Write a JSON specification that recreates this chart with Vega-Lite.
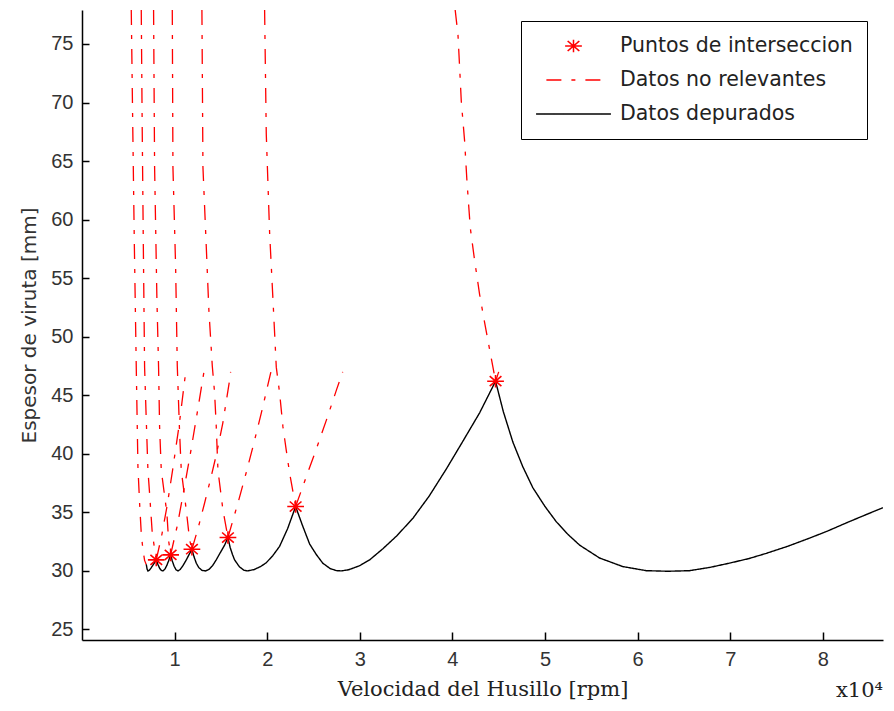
{
  "$schema": "https://vega.github.io/schema/vega-lite/v6.json",
  "width": 801,
  "height": 630,
  "autosize": {"type": "none"},
  "padding": {"left": 82, "top": 10, "right": 11, "bottom": 71},
  "background": "white",
  "title": {"text": "x10⁴", "orient": "bottom", "anchor": "end", "frame": "group", "font": "DejaVu Serif", "fontSize": 21, "fontWeight": "normal", "color": "#222", "offset": -19},
  "config": {
    "view": {"stroke": null},
    "axis": {"grid": false, "domainColor": "black", "domainWidth": 1.5, "tickColor": "black", "tickWidth": 1.5, "labelFont": "Liberation Sans", "labelFontSize": 20, "labelColor": "#333", "titleColor": "#333", "titleFontWeight": "normal"}
  },
  "datasets": {
    "depurados": [
      {"v": 0.694, "e": 30.55, "serie": "Datos depurados"},
      {"v": 0.703, "e": 30.15, "serie": "Datos depurados"},
      {"v": 0.712, "e": 30.0, "serie": "Datos depurados"},
      {"v": 0.73, "e": 30.08, "serie": "Datos depurados"},
      {"v": 0.75, "e": 30.3, "serie": "Datos depurados"},
      {"v": 0.775, "e": 30.6, "serie": "Datos depurados"},
      {"v": 0.802, "e": 30.94, "serie": "Datos depurados"},
      {"v": 0.82, "e": 30.55, "serie": "Datos depurados"},
      {"v": 0.84, "e": 30.2, "serie": "Datos depurados"},
      {"v": 0.857, "e": 30.04, "serie": "Datos depurados"},
      {"v": 0.874, "e": 30.0, "serie": "Datos depurados"},
      {"v": 0.895, "e": 30.15, "serie": "Datos depurados"},
      {"v": 0.915, "e": 30.45, "serie": "Datos depurados"},
      {"v": 0.935, "e": 30.85, "serie": "Datos depurados"},
      {"v": 0.957, "e": 31.37, "serie": "Datos depurados"},
      {"v": 0.975, "e": 30.85, "serie": "Datos depurados"},
      {"v": 0.995, "e": 30.4, "serie": "Datos depurados"},
      {"v": 1.015, "e": 30.1, "serie": "Datos depurados"},
      {"v": 1.036, "e": 30.0, "serie": "Datos depurados"},
      {"v": 1.06, "e": 30.12, "serie": "Datos depurados"},
      {"v": 1.09, "e": 30.45, "serie": "Datos depurados"},
      {"v": 1.12, "e": 30.85, "serie": "Datos depurados"},
      {"v": 1.15, "e": 31.3, "serie": "Datos depurados"},
      {"v": 1.187, "e": 31.85, "serie": "Datos depurados"},
      {"v": 1.21, "e": 31.2, "serie": "Datos depurados"},
      {"v": 1.235, "e": 30.65, "serie": "Datos depurados"},
      {"v": 1.26, "e": 30.3, "serie": "Datos depurados"},
      {"v": 1.295, "e": 30.05, "serie": "Datos depurados"},
      {"v": 1.335, "e": 30.0, "serie": "Datos depurados"},
      {"v": 1.37, "e": 30.12, "serie": "Datos depurados"},
      {"v": 1.41, "e": 30.45, "serie": "Datos depurados"},
      {"v": 1.45, "e": 30.95, "serie": "Datos depurados"},
      {"v": 1.5, "e": 31.65, "serie": "Datos depurados"},
      {"v": 1.54, "e": 32.2, "serie": "Datos depurados"},
      {"v": 1.576, "e": 32.85, "serie": "Datos depurados"},
      {"v": 1.6, "e": 32.0, "serie": "Datos depurados"},
      {"v": 1.625, "e": 31.4, "serie": "Datos depurados"},
      {"v": 1.648, "e": 30.94, "serie": "Datos depurados"},
      {"v": 1.7, "e": 30.35, "serie": "Datos depurados"},
      {"v": 1.75, "e": 30.05, "serie": "Datos depurados"},
      {"v": 1.79, "e": 30.0, "serie": "Datos depurados"},
      {"v": 1.86, "e": 30.12, "serie": "Datos depurados"},
      {"v": 1.93, "e": 30.38, "serie": "Datos depurados"},
      {"v": 1.99, "e": 30.7, "serie": "Datos depurados"},
      {"v": 2.06, "e": 31.3, "serie": "Datos depurados"},
      {"v": 2.134, "e": 32.1, "serie": "Datos depurados"},
      {"v": 2.22, "e": 33.6, "serie": "Datos depurados"},
      {"v": 2.307, "e": 35.5, "serie": "Datos depurados"},
      {"v": 2.38, "e": 33.9, "serie": "Datos depurados"},
      {"v": 2.458, "e": 32.3, "serie": "Datos depurados"},
      {"v": 2.53, "e": 31.4, "serie": "Datos depurados"},
      {"v": 2.6, "e": 30.66, "serie": "Datos depurados"},
      {"v": 2.68, "e": 30.2, "serie": "Datos depurados"},
      {"v": 2.75, "e": 30.02, "serie": "Datos depurados"},
      {"v": 2.8, "e": 30.0, "serie": "Datos depurados"},
      {"v": 2.88, "e": 30.1, "serie": "Datos depurados"},
      {"v": 3.0, "e": 30.45, "serie": "Datos depurados"},
      {"v": 3.106, "e": 30.94, "serie": "Datos depurados"},
      {"v": 3.25, "e": 31.9, "serie": "Datos depurados"},
      {"v": 3.4, "e": 33.0, "serie": "Datos depurados"},
      {"v": 3.574, "e": 34.5, "serie": "Datos depurados"},
      {"v": 3.75, "e": 36.4, "serie": "Datos depurados"},
      {"v": 3.934, "e": 38.7, "serie": "Datos depurados"},
      {"v": 4.1, "e": 40.9, "serie": "Datos depurados"},
      {"v": 4.294, "e": 43.5, "serie": "Datos depurados"},
      {"v": 4.466, "e": 46.2, "serie": "Datos depurados"},
      {"v": 4.55, "e": 43.6, "serie": "Datos depurados"},
      {"v": 4.653, "e": 41.0, "serie": "Datos depurados"},
      {"v": 4.76, "e": 38.9, "serie": "Datos depurados"},
      {"v": 4.869, "e": 37.1, "serie": "Datos depurados"},
      {"v": 5.0, "e": 35.5, "serie": "Datos depurados"},
      {"v": 5.122, "e": 34.2, "serie": "Datos depurados"},
      {"v": 5.25, "e": 33.1, "serie": "Datos depurados"},
      {"v": 5.374, "e": 32.2, "serie": "Datos depurados"},
      {"v": 5.59, "e": 31.1, "serie": "Datos depurados"},
      {"v": 5.84, "e": 30.37, "serie": "Datos depurados"},
      {"v": 6.094, "e": 30.02, "serie": "Datos depurados"},
      {"v": 6.33, "e": 29.97, "serie": "Datos depurados"},
      {"v": 6.56, "e": 30.02, "serie": "Datos depurados"},
      {"v": 6.78, "e": 30.3, "serie": "Datos depurados"},
      {"v": 6.99, "e": 30.66, "serie": "Datos depurados"},
      {"v": 7.2, "e": 31.05, "serie": "Datos depurados"},
      {"v": 7.39, "e": 31.5, "serie": "Datos depurados"},
      {"v": 7.62, "e": 32.1, "serie": "Datos depurados"},
      {"v": 7.857, "e": 32.8, "serie": "Datos depurados"},
      {"v": 8.05, "e": 33.4, "serie": "Datos depurados"},
      {"v": 8.254, "e": 34.1, "serie": "Datos depurados"},
      {"v": 8.45, "e": 34.75, "serie": "Datos depurados"},
      {"v": 8.65, "e": 35.4, "serie": "Datos depurados"}
    ],
    "norelevantes": [
      {"rama": "A1", "v": 0.532, "e": 77.9, "serie": "Datos no relevantes"},
      {"rama": "A1", "v": 0.548, "e": 68, "serie": "Datos no relevantes"},
      {"rama": "A1", "v": 0.565, "e": 58, "serie": "Datos no relevantes"},
      {"rama": "A1", "v": 0.586, "e": 47.4, "serie": "Datos no relevantes"},
      {"rama": "A1", "v": 0.604, "e": 38.9, "serie": "Datos no relevantes"},
      {"rama": "A1", "v": 0.622, "e": 35.8, "serie": "Datos no relevantes"},
      {"rama": "A1", "v": 0.64, "e": 33.2, "serie": "Datos no relevantes"},
      {"rama": "A1", "v": 0.658, "e": 31.8, "serie": "Datos no relevantes"},
      {"rama": "A1", "v": 0.676, "e": 30.9, "serie": "Datos no relevantes"},
      {"rama": "A1", "v": 0.694, "e": 30.55, "serie": "Datos no relevantes"},
      {"rama": "B1", "v": 0.64, "e": 77.9, "serie": "Datos no relevantes"},
      {"rama": "B1", "v": 0.65, "e": 68, "serie": "Datos no relevantes"},
      {"rama": "B1", "v": 0.662, "e": 58, "serie": "Datos no relevantes"},
      {"rama": "B1", "v": 0.676, "e": 47.4, "serie": "Datos no relevantes"},
      {"rama": "B1", "v": 0.694, "e": 42.9, "serie": "Datos no relevantes"},
      {"rama": "B1", "v": 0.712, "e": 38.6, "serie": "Datos no relevantes"},
      {"rama": "B1", "v": 0.73, "e": 36.6, "serie": "Datos no relevantes"},
      {"rama": "B1", "v": 0.759, "e": 33.2, "serie": "Datos no relevantes"},
      {"rama": "B1", "v": 0.802, "e": 30.94, "serie": "Datos no relevantes"},
      {"rama": "C1", "v": 0.773, "e": 77.9, "serie": "Datos no relevantes"},
      {"rama": "C1", "v": 0.784, "e": 64.5, "serie": "Datos no relevantes"},
      {"rama": "C1", "v": 0.809, "e": 53.2, "serie": "Datos no relevantes"},
      {"rama": "C1", "v": 0.827, "e": 47.4, "serie": "Datos no relevantes"},
      {"rama": "C1", "v": 0.838, "e": 42.3, "serie": "Datos no relevantes"},
      {"rama": "C1", "v": 0.856, "e": 38.6, "serie": "Datos no relevantes"},
      {"rama": "C1", "v": 0.917, "e": 34.9, "serie": "Datos no relevantes"},
      {"rama": "C1", "v": 0.935, "e": 32.6, "serie": "Datos no relevantes"},
      {"rama": "C1", "v": 0.957, "e": 31.37, "serie": "Datos no relevantes"},
      {"rama": "D1", "v": 0.975, "e": 77.9, "serie": "Datos no relevantes"},
      {"rama": "D1", "v": 0.982, "e": 64.5, "serie": "Datos no relevantes"},
      {"rama": "D1", "v": 1.011, "e": 56, "serie": "Datos no relevantes"},
      {"rama": "D1", "v": 1.029, "e": 47.5, "serie": "Datos no relevantes"},
      {"rama": "D1", "v": 1.054, "e": 41.8, "serie": "Datos no relevantes"},
      {"rama": "D1", "v": 1.072, "e": 38.6, "serie": "Datos no relevantes"},
      {"rama": "D1", "v": 1.126, "e": 35.2, "serie": "Datos no relevantes"},
      {"rama": "D1", "v": 1.162, "e": 32.65, "serie": "Datos no relevantes"},
      {"rama": "D1", "v": 1.187, "e": 31.85, "serie": "Datos no relevantes"},
      {"rama": "E1", "v": 1.295, "e": 77.9, "serie": "Datos no relevantes"},
      {"rama": "E1", "v": 1.306, "e": 64.5, "serie": "Datos no relevantes"},
      {"rama": "E1", "v": 1.342, "e": 57.7, "serie": "Datos no relevantes"},
      {"rama": "E1", "v": 1.37, "e": 52.3, "serie": "Datos no relevantes"},
      {"rama": "E1", "v": 1.407, "e": 47.5, "serie": "Datos no relevantes"},
      {"rama": "E1", "v": 1.432, "e": 45.2, "serie": "Datos no relevantes"},
      {"rama": "E1", "v": 1.45, "e": 42.3, "serie": "Datos no relevantes"},
      {"rama": "E1", "v": 1.468, "e": 38.6, "serie": "Datos no relevantes"},
      {"rama": "E1", "v": 1.522, "e": 35.2, "serie": "Datos no relevantes"},
      {"rama": "E1", "v": 1.576, "e": 32.85, "serie": "Datos no relevantes"},
      {"rama": "F1", "v": 1.972, "e": 77.9, "serie": "Datos no relevantes"},
      {"rama": "F1", "v": 1.99, "e": 67.3, "serie": "Datos no relevantes"},
      {"rama": "F1", "v": 2.026, "e": 58.9, "serie": "Datos no relevantes"},
      {"rama": "F1", "v": 2.062, "e": 53.2, "serie": "Datos no relevantes"},
      {"rama": "F1", "v": 2.098, "e": 47.4, "serie": "Datos no relevantes"},
      {"rama": "F1", "v": 2.134, "e": 45.2, "serie": "Datos no relevantes"},
      {"rama": "F1", "v": 2.17, "e": 42.3, "serie": "Datos no relevantes"},
      {"rama": "F1", "v": 2.206, "e": 40.3, "serie": "Datos no relevantes"},
      {"rama": "F1", "v": 2.242, "e": 38.35, "serie": "Datos no relevantes"},
      {"rama": "F1", "v": 2.307, "e": 35.5, "serie": "Datos no relevantes"},
      {"rama": "G1", "v": 4.03, "e": 77.9, "serie": "Datos no relevantes"},
      {"rama": "G1", "v": 4.06, "e": 75.8, "serie": "Datos no relevantes"},
      {"rama": "G1", "v": 4.078, "e": 73, "serie": "Datos no relevantes"},
      {"rama": "G1", "v": 4.096, "e": 70.1, "serie": "Datos no relevantes"},
      {"rama": "G1", "v": 4.132, "e": 66.7, "serie": "Datos no relevantes"},
      {"rama": "G1", "v": 4.157, "e": 63.3, "serie": "Datos no relevantes"},
      {"rama": "G1", "v": 4.193, "e": 59.3, "serie": "Datos no relevantes"},
      {"rama": "G1", "v": 4.24, "e": 56.5, "serie": "Datos no relevantes"},
      {"rama": "G1", "v": 4.294, "e": 53.6, "serie": "Datos no relevantes"},
      {"rama": "G1", "v": 4.348, "e": 51.2, "serie": "Datos no relevantes"},
      {"rama": "G1", "v": 4.402, "e": 48.9, "serie": "Datos no relevantes"},
      {"rama": "G1", "v": 4.466, "e": 46.2, "serie": "Datos no relevantes"},
      {"rama": "A2", "v": 0.802, "e": 30.94, "serie": "Datos no relevantes"},
      {"rama": "A2", "v": 0.86, "e": 33.0, "serie": "Datos no relevantes"},
      {"rama": "A2", "v": 0.92, "e": 35.6, "serie": "Datos no relevantes"},
      {"rama": "A2", "v": 0.98, "e": 38.7, "serie": "Datos no relevantes"},
      {"rama": "A2", "v": 1.05, "e": 42.5, "serie": "Datos no relevantes"},
      {"rama": "A2", "v": 1.12, "e": 47.0, "serie": "Datos no relevantes"},
      {"rama": "B2", "v": 0.957, "e": 31.37, "serie": "Datos no relevantes"},
      {"rama": "B2", "v": 1.03, "e": 33.9, "serie": "Datos no relevantes"},
      {"rama": "B2", "v": 1.1, "e": 36.9, "serie": "Datos no relevantes"},
      {"rama": "B2", "v": 1.17, "e": 40.0, "serie": "Datos no relevantes"},
      {"rama": "B2", "v": 1.24, "e": 43.3, "serie": "Datos no relevantes"},
      {"rama": "B2", "v": 1.317, "e": 47.0, "serie": "Datos no relevantes"},
      {"rama": "C2", "v": 1.187, "e": 31.85, "serie": "Datos no relevantes"},
      {"rama": "C2", "v": 1.252, "e": 33.6, "serie": "Datos no relevantes"},
      {"rama": "C2", "v": 1.324, "e": 35.8, "serie": "Datos no relevantes"},
      {"rama": "C2", "v": 1.39, "e": 37.9, "serie": "Datos no relevantes"},
      {"rama": "C2", "v": 1.45, "e": 39.9, "serie": "Datos no relevantes"},
      {"rama": "C2", "v": 1.52, "e": 42.6, "serie": "Datos no relevantes"},
      {"rama": "C2", "v": 1.594, "e": 46.3, "serie": "Datos no relevantes"},
      {"rama": "C2", "v": 1.605, "e": 47.0, "serie": "Datos no relevantes"},
      {"rama": "D2", "v": 1.576, "e": 32.85, "serie": "Datos no relevantes"},
      {"rama": "D2", "v": 1.684, "e": 35.8, "serie": "Datos no relevantes"},
      {"rama": "D2", "v": 1.77, "e": 38.3, "serie": "Datos no relevantes"},
      {"rama": "D2", "v": 1.846, "e": 40.6, "serie": "Datos no relevantes"},
      {"rama": "D2", "v": 1.94, "e": 43.6, "serie": "Datos no relevantes"},
      {"rama": "D2", "v": 2.04, "e": 47.0, "serie": "Datos no relevantes"},
      {"rama": "E2", "v": 2.307, "e": 35.5, "serie": "Datos no relevantes"},
      {"rama": "E2", "v": 2.42, "e": 38.0, "serie": "Datos no relevantes"},
      {"rama": "E2", "v": 2.53, "e": 40.4, "serie": "Datos no relevantes"},
      {"rama": "E2", "v": 2.64, "e": 42.9, "serie": "Datos no relevantes"},
      {"rama": "E2", "v": 2.75, "e": 45.5, "serie": "Datos no relevantes"},
      {"rama": "E2", "v": 2.815, "e": 47.0, "serie": "Datos no relevantes"},
      {"rama": "F2", "v": 4.466, "e": 46.2, "serie": "Datos no relevantes"},
      {"rama": "F2", "v": 4.5, "e": 47.0, "serie": "Datos no relevantes"}
    ],
    "puntos": [
      {"v": 0.802, "e": 30.94, "serie": "Puntos de interseccion"},
      {"v": 0.957, "e": 31.37, "serie": "Puntos de interseccion"},
      {"v": 1.187, "e": 31.85, "serie": "Puntos de interseccion"},
      {"v": 1.576, "e": 32.85, "serie": "Puntos de interseccion"},
      {"v": 2.307, "e": 35.5, "serie": "Puntos de interseccion"},
      {"v": 4.466, "e": 46.2, "serie": "Puntos de interseccion"}
    ]
  },
  "encoding": {
    "x": {"field": "v", "type": "quantitative", "scale": {"domain": [0, 8.65], "nice": false, "zero": false},
      "axis": {"values": [1, 2, 3, 4, 5, 6, 7, 8], "tickSize": -8, "labelPadding": 17, "title": "Velocidad del Husillo [rpm]", "titleFont": "DejaVu Serif", "titleFontSize": 21, "titlePadding": 9, "titleColor": "#222"}},
    "y": {"field": "e", "type": "quantitative", "scale": {"domain": [24.1, 77.9], "nice": false, "zero": false},
      "axis": {"values": [25, 30, 35, 40, 45, 50, 55, 60, 65, 70, 75], "tickSize": -7, "labelPadding": 16, "title": "Espesor de viruta [mm]", "titleFont": "DejaVu Sans", "titleFontSize": 20, "titlePadding": 11}},
    "color": {"field": "serie", "type": "nominal",
      "scale": {"domain": ["Puntos de interseccion", "Datos no relevantes", "Datos depurados"], "range": ["#ff0000", "#ff0000", "#000000"]},
      "legend": {"title": null, "orient": "none", "legendX": 439, "legendY": 11, "strokeColor": "black", "fillColor": "white", "padding": 14, "labelFont": "DejaVu Sans", "labelFontSize": 20.5, "labelColor": "#222", "labelOffset": 8, "labelLimit": 600, "clipHeight": 22, "rowPadding": 12, "symbolStrokeWidth": 1.5}}
  },
  "layer": [
    {
      "data": {"name": "norelevantes"},
      "mark": {"type": "line", "strokeWidth": 1.3, "clip": true},
      "encoding": {
        "detail": {"field": "rama", "type": "nominal"},
        "strokeDash": {"field": "serie", "type": "nominal",
          "scale": {"domain": ["Puntos de interseccion", "Datos no relevantes", "Datos depurados"], "range": [[1, 0], [15, 10, 4, 10], [1, 0]]}}
      }
    },
    {
      "data": {"name": "depurados"},
      "mark": {"type": "line", "strokeWidth": 1.4, "clip": true},
      "encoding": {
        "strokeDash": {"field": "serie", "type": "nominal"}
      }
    },
    {
      "data": {"name": "puntos"},
      "mark": {"type": "point", "filled": false, "strokeWidth": 1.6, "opacity": 1, "clip": true},
      "encoding": {
        "shape": {"field": "serie", "type": "nominal",
          "scale": {"domain": ["Puntos de interseccion", "Datos no relevantes", "Datos depurados"], "range": ["M-1,0L1,0M0,-0.75L0,0.75M-0.7,-0.6L0.7,0.6M-0.7,0.6L0.7,-0.6", "stroke", "stroke"]}},
        "size": {"field": "serie", "type": "nominal",
          "scale": {"domain": ["Puntos de interseccion", "Datos no relevantes", "Datos depurados"], "range": [280, 5600, 5600]}}
      }
    }
  ]
}
